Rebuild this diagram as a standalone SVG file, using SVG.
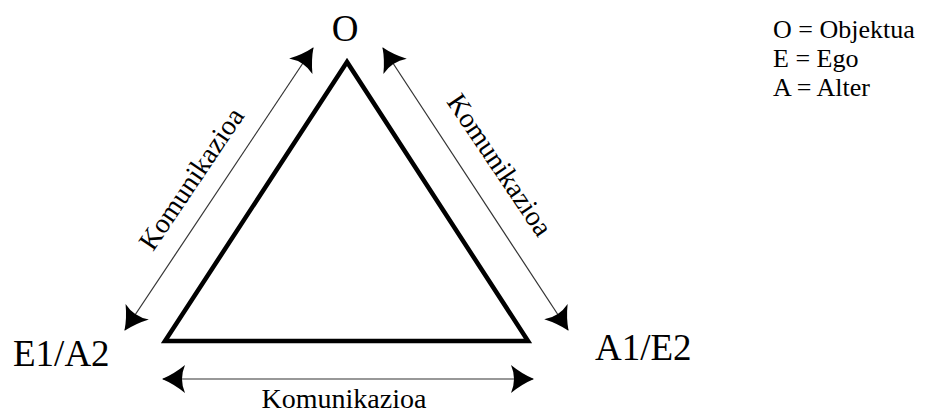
<svg xmlns="http://www.w3.org/2000/svg" width="931" height="414" viewBox="0 0 931 414">
  <style>
    .lbl { font-family: "Liberation Serif", "Times New Roman", serif; fill: #000; }
    .big { font-size: 37px; }
    .mid { font-size: 28px; }
    .key { font-size: 26px; }
    .comm { stroke: #333; stroke-width: 1.2; fill: none; marker-start: url(#head); marker-end: url(#head); }
  </style>
  <defs>
    <!-- concave arrowhead, tip at the end of the line -->
    <marker id="head" viewBox="0 0 24 28" refX="23" refY="14" markerWidth="24" markerHeight="28" markerUnits="userSpaceOnUse" orient="auto-start-reverse">
      <path d="M24,14 Q12,9 1,0 Q7,14 1,28 Q12,19 24,14 Z" fill="#000"/>
    </marker>
  </defs>

  <g id="triangle">
    <polygon points="347,62 165,341 528,341" fill="none" stroke="#000" stroke-width="4.5" stroke-linejoin="miter"/>
  </g>

  <g id="connectors">
    <line class="comm" x1="313" y1="48" x2="125" y2="330"/>
    <line class="comm" x1="383" y1="48" x2="568" y2="330"/>
    <line class="comm" x1="163" y1="379" x2="533" y2="379"/>
  </g>

  <g id="node-o">
    <text class="lbl big" x="345" y="41" text-anchor="middle">O</text>
  </g>
  <g id="node-e1a2">
    <text class="lbl big" x="13" y="366">E1/A2</text>
  </g>
  <g id="node-a1e2">
    <text class="lbl big" x="595" y="360">A1/E2</text>
  </g>

  <g id="edge-labels">
    <text class="lbl mid" x="199" y="184" text-anchor="middle" transform="rotate(-56 199 184)">Komunikazioa</text>
    <text class="lbl mid" x="492" y="170" text-anchor="middle" transform="rotate(56 492 170)">Komunikazioa</text>
    <text class="lbl mid" x="344" y="408" text-anchor="middle">Komunikazioa</text>
  </g>

  <g id="legend">
    <text class="lbl key" x="773" y="38">O = Objektua</text>
    <text class="lbl key" x="773" y="67">E = Ego</text>
    <text class="lbl key" x="773" y="96">A = Alter</text>
  </g>
</svg>
